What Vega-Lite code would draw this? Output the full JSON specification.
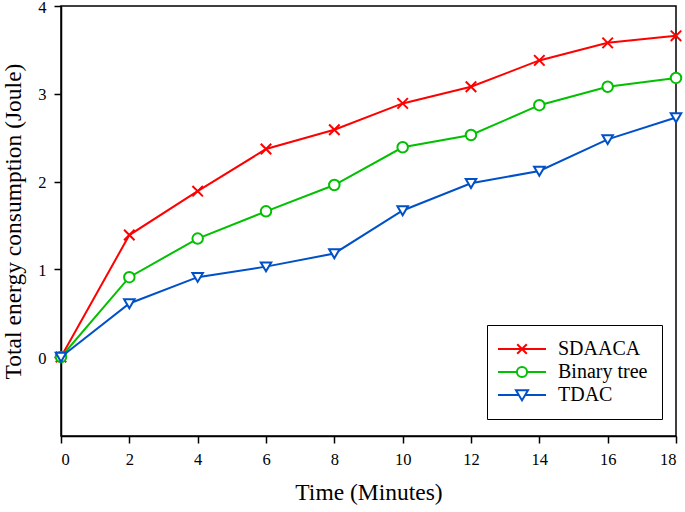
{
  "$schema": "https://vega.github.io/schema/vega-lite/v6.json",
  "autosize": {"type": "none"},
  "padding": {"left": 61, "top": 6, "right": 9, "bottom": 76},
  "width": 615,
  "height": 430,
  "background": "white",
  "config": {
    "font": "Liberation Serif",
    "view": {"stroke": "#000", "strokeWidth": 1.5},
    "axis": {
      "domainColor": "#000",
      "domainWidth": 1.5,
      "tickColor": "#000",
      "tickWidth": 1.5,
      "tickSize": 7,
      "grid": false,
      "labelFont": "Liberation Serif",
      "labelFontSize": 16.5,
      "labelColor": "#000",
      "titleFont": "Liberation Serif",
      "titleFontSize": 23.5,
      "titleFontWeight": "normal",
      "titleColor": "#000"
    },
    "legend": {
      "labelFont": "Liberation Serif",
      "labelFontSize": 20,
      "labelColor": "#000"
    }
  },
  "data": {
    "values": [
      {"t": 0, "series": "SDAACA", "e": 0},
      {"t": 2, "series": "SDAACA", "e": 1.39},
      {"t": 4, "series": "SDAACA", "e": 1.89},
      {"t": 6, "series": "SDAACA", "e": 2.37},
      {"t": 8, "series": "SDAACA", "e": 2.59},
      {"t": 10, "series": "SDAACA", "e": 2.89},
      {"t": 12, "series": "SDAACA", "e": 3.08},
      {"t": 14, "series": "SDAACA", "e": 3.38},
      {"t": 16, "series": "SDAACA", "e": 3.58},
      {"t": 18, "series": "SDAACA", "e": 3.66},
      {"t": 0, "series": "Binary tree", "e": 0},
      {"t": 2, "series": "Binary tree", "e": 0.91},
      {"t": 4, "series": "Binary tree", "e": 1.35},
      {"t": 6, "series": "Binary tree", "e": 1.66},
      {"t": 8, "series": "Binary tree", "e": 1.96},
      {"t": 10, "series": "Binary tree", "e": 2.39},
      {"t": 12, "series": "Binary tree", "e": 2.53},
      {"t": 14, "series": "Binary tree", "e": 2.87},
      {"t": 16, "series": "Binary tree", "e": 3.08},
      {"t": 18, "series": "Binary tree", "e": 3.18},
      {"t": 0, "series": "TDAC", "e": 0},
      {"t": 2, "series": "TDAC", "e": 0.61},
      {"t": 4, "series": "TDAC", "e": 0.91},
      {"t": 6, "series": "TDAC", "e": 1.03},
      {"t": 8, "series": "TDAC", "e": 1.18},
      {"t": 10, "series": "TDAC", "e": 1.67},
      {"t": 12, "series": "TDAC", "e": 1.98},
      {"t": 14, "series": "TDAC", "e": 2.12},
      {"t": 16, "series": "TDAC", "e": 2.48},
      {"t": 18, "series": "TDAC", "e": 2.73}
    ]
  },
  "encoding": {
    "x": {
      "field": "t",
      "type": "quantitative",
      "title": "Time (Minutes)",
      "scale": {"domain": [0, 18], "nice": false, "zero": false},
      "axis": {"values": [0, 2, 4, 6, 8, 10, 12, 14, 16, 18], "labelPadding": 8, "titlePadding": 13}
    },
    "y": {
      "field": "e",
      "type": "quantitative",
      "title": "Total energy consumption (Joule)",
      "scale": {"domain": [-0.9, 4], "nice": false, "zero": false},
      "axis": {"values": [0, 1, 2, 3, 4], "labelPadding": 8, "labelOffset": 1, "titlePadding": 12}
    },
    "color": {
      "field": "series",
      "type": "nominal",
      "scale": {"domain": ["SDAACA", "Binary tree", "TDAC"], "range": ["#ff0000", "#00c000", "#0050c8"]},
      "legend": {
        "title": null,
        "orient": "none",
        "legendX": 426,
        "legendY": 319,
        "strokeColor": "#000",
        "fillColor": "white",
        "padding": 14,
        "symbolSize": 144,
        "symbolStrokeWidth": 2,
        "symbolOpacity": 1,
        "symbolFillColor": "white",
        "symbolOffset": 11,
        "labelOffset": 26,
        "rowPadding": 3
      }
    }
  },
  "layer": [
    {
      "mark": {"type": "line", "strokeWidth": 2}
    },
    {
      "transform": [{"filter": "datum.series === 'SDAACA'"}],
      "mark": {"type": "point", "filled": false, "shape": "M-1,-1L1,1M1,-1L-1,1", "strokeWidth": 2, "size": 110, "opacity": 1}
    },
    {
      "transform": [{"filter": "datum.series === 'Binary tree'"}],
      "mark": {"type": "point", "filled": false, "fill": "white", "shape": "circle", "strokeWidth": 2, "size": 110, "opacity": 1}
    },
    {
      "transform": [{"filter": "datum.series === 'TDAC'"}],
      "mark": {"type": "point", "filled": false, "fill": "white", "shape": "M-1,-0.8L1,-0.8L0,0.9Z", "strokeWidth": 2, "size": 110, "opacity": 1}
    },
    {
      "mark": {"type": "point", "filled": false, "strokeWidth": 2, "opacity": 0},
      "encoding": {
        "shape": {
          "field": "series",
          "type": "nominal",
          "scale": {"domain": ["SDAACA", "Binary tree", "TDAC"], "range": [
            "M-4,0H4M-0.8,-0.8L0.8,0.8M0.8,-0.8L-0.8,0.8",
            "M-4,0H-0.85M0.85,0H4M-0.85,0A0.85,0.85 0 1,1 0.85,0A0.85,0.85 0 1,1 -0.85,0Z",
            "M-4,0H-0.53M0.53,0H4M-1,-0.8L1,-0.8L0,0.9Z"
          ]},
          "legend": {
            "title": null,
            "orient": "none",
            "legendX": 426,
            "legendY": 319,
            "strokeColor": "#000",
            "fillColor": "white",
            "padding": 14,
            "symbolSize": 144,
            "symbolStrokeWidth": 2,
            "symbolOpacity": 1,
            "symbolFillColor": "white",
            "symbolOffset": 11,
            "labelOffset": 26,
            "rowPadding": 3
          }
        }
      }
    }
  ]
}
